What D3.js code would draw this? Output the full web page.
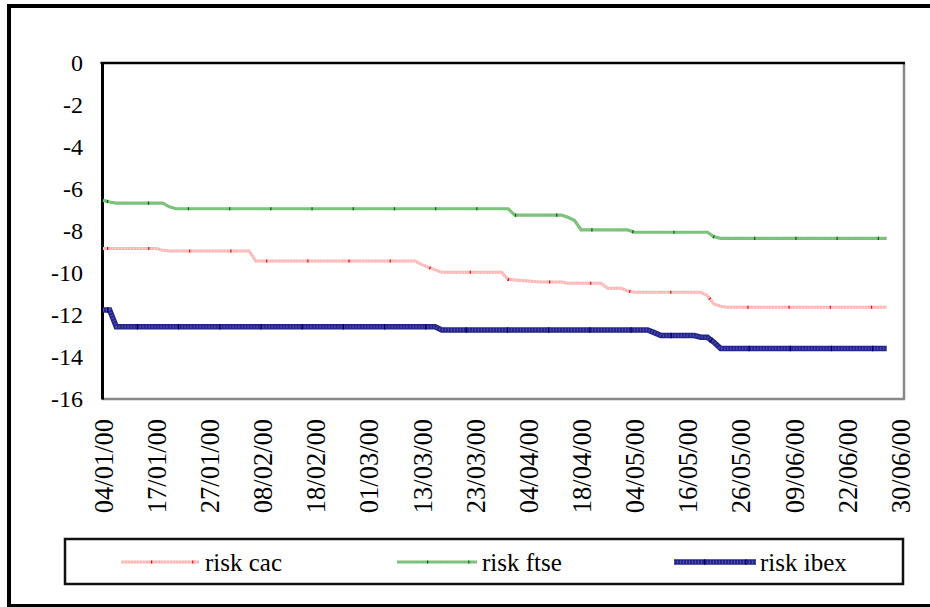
<!DOCTYPE html>
<html><head><meta charset="utf-8">
<script src="https://cdn.jsdelivr.net/npm/d3@7"></script>
<style>html,body{margin:0;padding:0;background:#fff;}svg{display:block;} text{font-family:"Liberation Serif","Times New Roman",serif;}</style>
</head><body>
<svg id="chart" width="930" height="607"></svg>
<script>
// ---- data ----
const tickLabels = ["04/01/00","17/01/00","27/01/00","08/02/00","18/02/00","01/03/00","13/03/00","23/03/00",
                    "04/04/00","18/04/00","04/05/00","16/05/00","26/05/00","09/06/00","22/06/00","30/06/00"];
const categoryCount = 121;      // trading days on the category axis
const labelEvery = 8;           // a label every 8 categories
const yTicks = [0,-2,-4,-6,-8,-10,-12,-14,-16];
const seriesNames = ["risk cac","risk ftse","risk ibex"];

const riskCac = [
 -8.83,-8.83,-8.83,-8.83,-8.83,-8.83,-8.83,-8.83,-8.83,
 -8.92,
 -8.95,-8.95,-8.95,-8.95,-8.95,-8.95,-8.95,-8.95,-8.95,-8.95,-8.95,-8.95,-8.95,
 -9.43,-9.43,-9.43,-9.43,-9.43,-9.43,-9.43,-9.43,-9.43,-9.43,-9.43,-9.43,-9.43,-9.43,-9.43,-9.43,-9.43,-9.43,-9.43,-9.43,-9.43,-9.43,-9.43,-9.43,-9.43,
 -9.6,-9.73,-9.85,
 -9.97,-9.97,-9.97,-9.97,-9.97,-9.97,-9.97,-9.97,-9.97,-9.97,
 -10.3,-10.33,-10.36,-10.38,-10.41,
 -10.43,-10.43,-10.43,-10.43,
 -10.49,-10.49,-10.49,-10.49,-10.49,-10.49,
 -10.73,-10.73,-10.73,
 -10.85,
 -10.92,-10.92,-10.92,-10.92,-10.92,-10.92,-10.92,-10.92,-10.92,-10.92,-10.92,
 -11.08,-11.48,-11.58,
 -11.63,-11.63,-11.63,-11.63,-11.63,-11.63,-11.63,-11.63,-11.63,-11.63,-11.63,-11.63,-11.63,-11.63,-11.63,-11.63,-11.63,-11.63,-11.63,-11.63,-11.63,-11.63,-11.63,-11.63,-11.63
];
const riskFtse = [
 -6.54,-6.62,
 -6.67,-6.67,-6.67,-6.67,-6.67,-6.67,-6.67,-6.67,
 -6.85,
 -6.94,-6.94,-6.94,-6.94,-6.94,-6.94,-6.94,-6.94,-6.94,-6.94,-6.94,-6.94,-6.94,-6.94,-6.94,-6.94,-6.94,-6.94,-6.94,-6.94,-6.94,-6.94,-6.94,-6.94,-6.94,
 -6.94,-6.94,-6.94,-6.94,-6.94,-6.94,-6.94,-6.94,-6.94,-6.94,-6.94,-6.94,-6.94,-6.94,-6.94,-6.94,-6.94,-6.94,-6.94,-6.94,-6.94,-6.94,-6.94,-6.94,-6.94,-6.94,
 -7.24,-7.24,-7.24,-7.24,-7.24,-7.24,-7.24,-7.24,
 -7.35,-7.5,
 -7.95,-7.95,-7.95,-7.95,-7.95,-7.95,-7.95,-7.95,
 -8.06,-8.06,-8.06,-8.06,-8.06,-8.06,-8.06,-8.06,-8.06,-8.06,-8.06,-8.06,
 -8.28,
 -8.35,-8.35,-8.35,-8.35,-8.35,-8.35,-8.35,-8.35,-8.35,-8.35,-8.35,-8.35,-8.35,-8.35,-8.35,-8.35,-8.35,-8.35,-8.35,-8.35,-8.35,-8.35,-8.35,-8.35,-8.35,-8.35
];
const riskIbex = [
 -11.76,-11.76,
 -12.56,-12.56,-12.56,-12.56,-12.56,-12.56,-12.56,-12.56,-12.56,-12.56,-12.56,-12.56,-12.56,-12.56,-12.56,-12.56,-12.56,-12.56,-12.56,-12.56,-12.56,-12.56,-12.56,-12.56,
 -12.56,-12.56,-12.56,-12.56,-12.56,-12.56,-12.56,-12.56,-12.56,-12.56,-12.56,-12.56,-12.56,-12.56,-12.56,-12.56,-12.56,-12.56,-12.56,-12.56,-12.56,-12.56,-12.56,-12.56,-12.56,
 -12.71,-12.71,-12.71,-12.71,-12.71,-12.71,-12.71,-12.71,-12.71,-12.71,-12.71,-12.71,-12.71,-12.71,-12.71,-12.71,
 -12.71,-12.71,-12.71,-12.71,-12.71,-12.71,-12.71,-12.71,-12.71,-12.71,-12.71,-12.71,-12.71,-12.71,-12.71,-12.71,
 -12.84,
 -12.98,-12.98,-12.98,-12.98,-12.98,-12.98,
 -13.06,-13.06,
 -13.3,
 -13.6,-13.6,-13.6,-13.6,-13.6,-13.6,-13.6,-13.6,-13.6,-13.6,-13.6,-13.6,-13.6,-13.6,-13.6,-13.6,-13.6,-13.6,-13.6,-13.6,-13.6,-13.6,-13.6,-13.6,-13.6,-13.6
];

// ---- layout ----
const svg = d3.select("#chart");
const plot = {left:102, top:63, right:904, bottom:399};
const x = d3.scaleLinear().domain([0, categoryCount-1]).range([103, 900]);
const y = d3.scaleLinear().domain([-16, 0]).range([plot.bottom, plot.top]);
const font = "Liberation Serif";

// outer frame
svg.append("rect").attr("x",9).attr("y",6).attr("width",940).attr("height",600)
  .attr("fill","none").attr("stroke","#000").attr("stroke-width",4);

// plot frame: right/bottom grey, left/top black
svg.append("line").attr("x1",plot.right).attr("x2",plot.right).attr("y1",plot.top).attr("y2",plot.bottom)
  .attr("stroke","#888").attr("stroke-width",2.5);
svg.append("line").attr("x1",plot.left).attr("x2",plot.right+1).attr("y1",plot.bottom).attr("y2",plot.bottom)
  .attr("stroke","#888").attr("stroke-width",2.5);
svg.append("line").attr("x1",plot.left-1.5).attr("x2",plot.right+1).attr("y1",plot.top).attr("y2",plot.top)
  .attr("stroke","#000").attr("stroke-width",2.5);

// y axis
const yAxis = d3.axisLeft(y).tickValues(yTicks).tickSize(0).tickPadding(19).tickFormat(d => String(d));
const gy = svg.append("g").attr("transform",`translate(${plot.left},0)`).call(yAxis);
gy.attr("font-family",null).attr("font-size",null);
gy.select(".domain").attr("stroke","#000").attr("stroke-width",3);
gy.selectAll("text").style("font-family",font).style("font-size","24px").attr("fill","#000");

// x axis labels
const labelIdx = tickLabels.map((d,i)=>i*labelEvery);
const xAxis = d3.axisBottom(x).tickValues(labelIdx).tickSize(0).tickFormat((d,i)=>tickLabels[i]);
const gx = svg.append("g").attr("transform",`translate(0,${plot.bottom})`).call(xAxis);
gx.attr("font-family",null).attr("font-size",null);
gx.select(".domain").remove();
gx.selectAll("text").style("font-family",font).style("font-size","26.5px").attr("fill","#000")
  .attr("text-anchor","end").attr("dy","0.35em")
  .attr("transform","translate(0,20) rotate(-90)").attr("x",0).attr("y",0);

// series
const styles = [
  {data: riskCac,  base:"#ffb4b4", w:3,   tex:"#ffffff", texOp:0.55, texDash:"1 2", mark:"#ff0000"},
  {data: riskFtse, base:"#78c078", w:3.2, tex:"#ffffff", texOp:0.15, texDash:"1 2", mark:"#006400"},
  {data: riskIbex, base:"#24248c", w:5.5, tex:"#8a8ad0", texOp:0.5,  texDash:"1 2", mark:"#000060"}
];
const line = d3.line().x((d,i)=>x(i)).y(d=>y(d));
styles.forEach(s=>{
  const g = svg.append("g");
  g.append("path").datum(s.data).attr("d",line).attr("fill","none")
    .attr("stroke",s.base).attr("stroke-width",s.w).attr("stroke-linejoin","miter");
  g.append("path").datum(s.data).attr("d",line).attr("fill","none")
    .attr("stroke",s.tex).attr("stroke-opacity",s.texOp).attr("stroke-width",s.w*0.5)
    .attr("stroke-dasharray",s.texDash);
  g.append("path").datum(s.data).attr("d",line).attr("fill","none")
    .attr("stroke",s.mark).attr("stroke-width",s.w).attr("stroke-dasharray","1.2 40")
    .attr("stroke-dashoffset",-4);
});

// legend
const legend = svg.append("g");
legend.append("rect").attr("x",65).attr("y",539).attr("width",838).attr("height",45)
  .attr("fill","#fff").attr("stroke","#111").attr("stroke-width",2.5);
const legX = [{x1:121,x2:199,tx:205},{x1:397,x2:477,tx:482},{x1:674,x2:756,tx:760}];
styles.forEach((s,i)=>{
  const L = legX[i], ly = 562;
  legend.append("line").attr("x1",L.x1).attr("x2",L.x2).attr("y1",ly).attr("y2",ly)
    .attr("stroke",s.base).attr("stroke-width",s.w);
  legend.append("line").attr("x1",L.x1).attr("x2",L.x2).attr("y1",ly).attr("y2",ly)
    .attr("stroke",s.tex).attr("stroke-opacity",s.texOp).attr("stroke-width",s.w*0.5).attr("stroke-dasharray",s.texDash);
  legend.append("line").attr("x1",L.x1).attr("x2",L.x2).attr("y1",ly).attr("y2",ly)
    .attr("stroke",s.mark).attr("stroke-width",s.w).attr("stroke-dasharray","1.2 40").attr("stroke-dashoffset",-30);
  legend.append("text").attr("x",L.tx).attr("y",ly).attr("dy","0.35em")
    .style("font-family",font).style("font-size","25px").attr("fill","#000").text(seriesNames[i]);
});
</script>
</body></html>
